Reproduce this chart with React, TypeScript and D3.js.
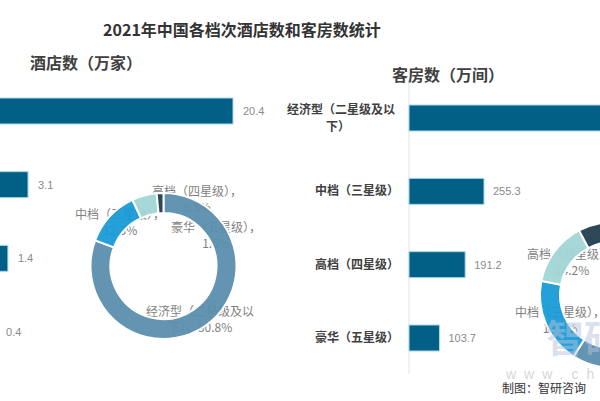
import React from "react";
import * as d3 from "d3";

const categories = ["经济型（二星级及以下）", "中档（三星级）", "高档（四星级）", "豪华（五星级）"];
const hotelCounts = [20.4, 3.1, 1.4, 0.4];
const roomCounts = [796, 255.3, 191.2, 103.7];
const hotelShares = [80.8, 12.3, 5.5, 1.5];
const roomShares = [59.1, 19.0, 14.2, 7.7];
const hotelShareLabels = ["80.8%", "12.3%", "5.5%", "1.5%"];
const roomShareLabels = ["59.1%", "19.0%", "14.2%", "7.7%"];

const W = 600;
const H = 401;
const barColor = "#025f86";
const sliceColors = ["#5b8fad", "#1a9bd7", "#a3d6d6", "#233f50"];
const labelFont = "'Noto Sans CJK SC', 'Noto Sans', sans-serif";

const leftLabelPos = [
  { x: 200, y: 316 },
  { x: 120, y: 219 },
  { x: 197, y: 196 },
  { x: 216, y: 232 },
];
const rightLabelPos = [
  { x: 690, y: 330 },
  { x: 560, y: 317 },
  { x: 572, y: 259 },
  { x: 680, y: 240 },
];

function labelLines(i: number, pct: string): string[] {
  if (i === 0) return ["经济型（二星级及以", "下），" + pct];
  return [categories[i] + "，", pct];
}

function Donut({ cx, cy, shares, pcts, pos }: { cx: number; cy: number; shares: number[]; pcts: string[]; pos: { x: number; y: number }[] }) {
  const pie = d3.pie<number>().sort(null).value((d) => d)(shares);
  const arc = d3.arc<d3.PieArcDatum<number>>().innerRadius(53).outerRadius(73);
  return (
    <g>
      {pcts.map((p, i) => {
        const lines = labelLines(i, p);
        return (
          <text key={"l" + i} x={pos[i].x} y={pos[i].y} textAnchor="middle" fontSize={12} fill="#7f7f7f" fontFamily={labelFont}>
            {lines.map((ln, j) => (
              <tspan key={j} x={pos[i].x} dy={j === 0 ? 0 : 16}>{ln}</tspan>
            ))}
          </text>
        );
      })}
      <g transform={`translate(${cx},${cy})`}>
        {pie.map((s, i) => (
          <path key={i} d={arc(s) || ""} fill={sliceColors[i]} stroke="#ffffff" strokeWidth={2} opacity={0.95} />
        ))}
      </g>
    </g>
  );
}

export default function App() {
  const yLeft = d3.scalePoint<string>().domain(categories).range([111, 332]);
  const yRight = d3.scalePoint<string>().domain(categories).range([118, 338]);
  const xLeft = d3.scaleLinear().domain([0, 20.4]).range([-8.7, 233]);
  const xRight = d3.scaleLinear().domain([0, 255.3]).range([409, 484]);
  const bh = 26;

  return (
    <svg width={W} height={H} style={{ position: "absolute", left: 0, top: 0, background: "#fff" }} xmlns="http://www.w3.org/2000/svg">
      <rect x={0} y={0} width={W} height={H} fill="#ffffff" />
      <text x={242} y={36} textAnchor="middle" fontSize={16} fontWeight="bold" fill="#333" fontFamily={labelFont}>
        2021年中国各档次酒店数和客房数统计
      </text>
      <text x={30} y={69} fontSize={16} fontWeight="bold" fill="#404040" fontFamily={labelFont}>酒店数（万家）</text>
      <text x={392} y={81} fontSize={16} fontWeight="bold" fill="#404040" fontFamily={labelFont}>客房数（万间）</text>

      {categories.map((c, i) => (
        <g key={"lb" + i}>
          <rect x={xLeft(0)} y={(yLeft(c) as number) - bh / 2} width={Math.max(0, xLeft(hotelCounts[i]) - xLeft(0))} height={bh} fill={barColor} stroke="#a9d9ec" strokeWidth={1} />
          <text x={xLeft(hotelCounts[i]) + 10} y={(yLeft(c) as number) + 4} fontSize={11} fill="#8a8a8a" fontFamily="'Liberation Sans', Arial, sans-serif">
            {hotelCounts[i].toFixed(1)}
          </text>
        </g>
      ))}

      <Donut cx={163.5} cy={266} shares={hotelShares} pcts={hotelShareLabels} pos={leftLabelPos} />

      <line x1={409} x2={409} y1={82} y2={374} stroke="#e3e3e3" strokeWidth={1} />
      {categories.map((c, i) => {
        const cy = yRight(c) as number;
        return (
          <g key={"rb" + i}>
            <rect x={xRight(0)} y={cy - bh / 2} width={xRight(roomCounts[i]) - xRight(0)} height={bh} fill={barColor} stroke="#a9d9ec" strokeWidth={1} />
            <text x={xRight(roomCounts[i]) + 9} y={cy + 4} fontSize={11} fill="#8a8a8a" fontFamily="'Liberation Sans', Arial, sans-serif">
              {roomCounts[i].toFixed(1)}
            </text>
            {i === 0 ? (
              <text fontSize={12} fontWeight="bold" fill="#404040" fontFamily={labelFont} textAnchor="middle">
                <tspan x={341} y={cy - 4}>经济型（二星级及以</tspan>
                <tspan x={338} y={cy + 13}>下）</tspan>
              </text>
            ) : (
              <text x={399} y={cy + 4} textAnchor="end" fontSize={12} fontWeight="bold" fill="#404040" fontFamily={labelFont}>
                {c}
              </text>
            )}
          </g>
        );
      })}

      <Donut cx={613} cy={295} shares={roomShares} pcts={roomShareLabels} pos={rightLabelPos} />

      <g opacity={0.5}>
        <text x={546} y={352} fontSize={38} fontWeight="bold" fill="#b7c3dc" fontFamily={labelFont}>智研</text>
        <text x={506} y={379} fontSize={14} fill="#b0b0b0" letterSpacing={8} fontFamily="'Liberation Sans', Arial, sans-serif">www.chyxx.com</text>
      </g>
      <text x={502} y={393} fontSize={12} fill="#333" fontFamily={labelFont}>制图：智研咨询</text>
    </svg>
  );
}
